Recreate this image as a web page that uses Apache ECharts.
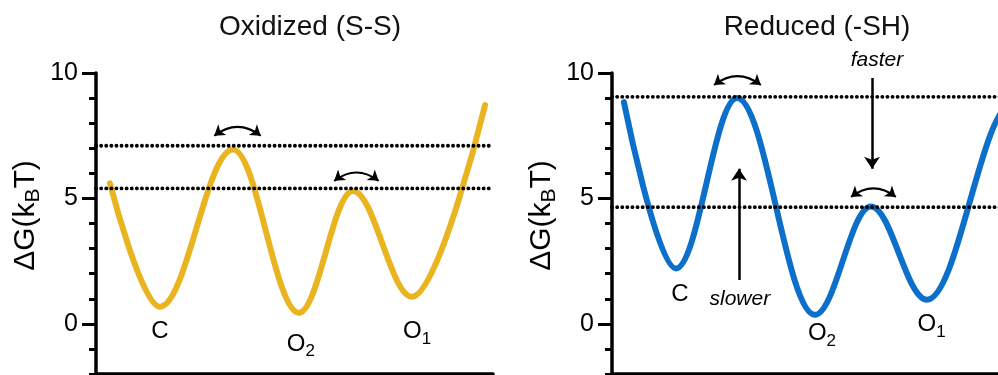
<!DOCTYPE html>
<html><head><meta charset="utf-8">
<script src="https://cdn.jsdelivr.net/npm/echarts@6/dist/echarts.min.js"></script>
<style>html,body{margin:0;padding:0;background:#fff}#c{width:998px;height:375px}</style>
</head><body><div id="c"></div>
<script>
// ---- data ----
const reactionCoordLeft = [3.5, 16.1, 34.5, 51.1, 64.7, 79.6, 98];
const energyLeft = [5.6, 0.68, 6.95, 0.44, 5.3, 1.08, 8.72];
const reactionCoordRight = [3.0, 16.1, 31.5, 51.1, 65.2, 79.3, 101, 115];
const energyRight = [8.84, 2.21, 9.0, 0.36, 4.68, 0.96, 8.8, 4.0];
const barriersLeft = [7.1, 5.4];
const barriersRight = [9.05, 4.65];
const yMajorTicks = [0, 5, 10];
const stateNames = ['C', 'O2', 'O1'];
const stateLabelXLeft = [16.1, 51.6, 80.9];
const stateLabelYLeft = [-0.32, -0.8, -0.32];
const stateLabelXRight = [17.1, 52.9, 80.5];
const stateLabelYRight = [1.16, -0.38, -0.04];
const hopStartLeft = [29.8, 60.0];
const hopEndLeft = [41.5, 71.2];
const hopLevelLeft = [7.5, 5.7];
const hopStartRight = [25.7, 60.2];
const hopEndRight = [37.5, 71.5];
const hopLevelRight = [9.52, 5.06];
const rateArrowX = [32.0, 65.5];
const rateArrowFrom = [1.75, 9.8];
const rateArrowTo = [6.18, 6.18];
const rateWords = ['slower', 'faster'];
const rateWordX = [32.2, 66.75];
const rateWordY = [1.0, 10.52];
const panelTitles = ['Oxidized (S-S)', 'Reduced (-SH)'];

const FONT = '"Liberation Sans", Arial, Helvetica, sans-serif';
const GOLD = '#EAB420';
const BLUE = '#0C6FCA';
const grids = [
  {left: 96, top: 73, width: 397, height: 301, outerBoundsMode: 'none', containLabel: false},
  {left: 612, top: 73, width: 397, height: 301, outerBoundsMode: 'none', containLabel: false}
];

function zip(a, b) { return a.map((v, i) => [v, b[i]]); }
function stateRich(t) { return t.length > 1 ? '{m|' + t[0] + '}{s|' + t.slice(1) + '}' : '{m|' + t + '}'; }

const xAxes = [0, 1].map(i => ({
  gridIndex: i, type: 'value', min: 0, max: 100, position: 'bottom',
  axisLine: {show: true, onZero: false, lineStyle: {color: '#000', width: 3.5}},
  axisTick: {show: false}, axisLabel: {show: false}, splitLine: {show: false}
}));
const yAxes = [];
[0, 1].forEach(i => {
  yAxes.push({
    gridIndex: i, type: 'value', min: -2, max: 10, interval: 1, position: 'left', offset: 0,
    axisLine: {show: true, onZero: false, lineStyle: {color: '#000', width: 3.5}},
    axisTick: {show: true, length: 7, lineStyle: {color: '#000', width: 3}},
    axisLabel: {show: false}, splitLine: {show: false}
  });
  yAxes.push({
    gridIndex: i, type: 'value', min: -2, max: 10, position: 'left', offset: 0,
    axisLine: {show: false, onZero: false},
    axisTick: {show: true, length: 14, customValues: yMajorTicks, lineStyle: {color: '#000', width: 3}},
    axisLabel: {show: true, customValues: yMajorTicks, fontSize: 25, color: '#000', margin: 18, fontFamily: FONT},
    splitLine: {show: false},
    name: '{a|ΔG(k}{b|B}{a|T)}', nameLocation: 'middle', nameGap: 52,
    nameTextStyle: {
      color: '#000', padding: [0, 0, 0, 16],
      rich: {
        a: {fontSize: 30, lineHeight: 36, fontFamily: FONT, color: '#000'},
        b: {fontSize: 21, lineHeight: 25, verticalAlign: 'bottom', fontFamily: FONT, color: '#000'}
      }
    }
  });
});

const series = [];
series.push({type: 'line', xAxisIndex: 0, yAxisIndex: 0, data: zip(reactionCoordLeft, energyLeft),
  smooth: 0.36, smoothMonotone: 'x', symbol: 'none', lineStyle: {color: GOLD, width: 6, cap: 'round', join: 'round'}, z: 3});
series.push({type: 'line', xAxisIndex: 1, yAxisIndex: 2, data: zip(reactionCoordRight, energyRight),
  smooth: 0.36, smoothMonotone: 'x', symbol: 'none', lineStyle: {color: BLUE, width: 6, cap: 'round', join: 'round'}, z: 3});

const dotStyle = {color: '#000', width: 3.8, type: [0.1, 5.0], cap: 'round'};
barriersLeft.forEach(b => series.push({type: 'line', xAxisIndex: 0, yAxisIndex: 0, data: [[0, b], [100, b]], symbol: 'none', lineStyle: dotStyle, z: 4}));
barriersRight.forEach(b => series.push({type: 'line', xAxisIndex: 1, yAxisIndex: 2, data: [[0, b], [100, b]], symbol: 'none', lineStyle: dotStyle, z: 4}));

function hopData(s, e, l) { return s.map((v, i) => ({coords: [[v, l[i]], [e[i], l[i]]]})); }
series.push({type: 'lines', coordinateSystem: 'cartesian2d', xAxisIndex: 0, yAxisIndex: 0,
  data: hopData(hopStartLeft, hopEndLeft, hopLevelLeft), symbol: ['arrow', 'arrow'], symbolSize: 10,
  lineStyle: {color: '#000', width: 2, curveness: 0.38, opacity: 1}, z: 5});
series.push({type: 'lines', coordinateSystem: 'cartesian2d', xAxisIndex: 1, yAxisIndex: 2,
  data: hopData(hopStartRight, hopEndRight, hopLevelRight), symbol: ['arrow', 'arrow'], symbolSize: 10,
  lineStyle: {color: '#000', width: 2, curveness: 0.38, opacity: 1}, z: 5});
series.push({type: 'lines', coordinateSystem: 'cartesian2d', xAxisIndex: 1, yAxisIndex: 2,
  data: rateArrowX.map((x, i) => ({coords: [[x, rateArrowFrom[i]], [x, rateArrowTo[i]]]})),
  symbol: ['none', 'arrow'], symbolSize: 12,
  lineStyle: {color: '#000', width: 2.5, curveness: 0, opacity: 1}, z: 5});

const labelRich = {
  m: {fontSize: 24, lineHeight: 32, fontFamily: FONT, color: '#000'},
  s: {fontSize: 17, lineHeight: 18, verticalAlign: 'bottom', fontFamily: FONT, color: '#000'},
  it: {fontSize: 21, fontStyle: 'italic', fontFamily: FONT, color: '#000'}
};
function labelSeries(xi, yi, xs, ys, texts, fmt) {
  return {type: 'scatter', xAxisIndex: xi, yAxisIndex: yi, clip: false, symbolSize: 0,
    data: xs.map((x, i) => [x, ys[i], texts[i]]),
    label: {show: true, position: 'inside', color: '#000', textBorderWidth: 0, opacity: 1,
      formatter: p => fmt(p.data[2]), rich: labelRich},
    itemStyle: {opacity: 1},
    emphasis: {disabled: true},
    z: 6, silent: true};
}
series.push(labelSeries(0, 0, stateLabelXLeft, stateLabelYLeft, stateNames, stateRich));
series.push(labelSeries(1, 2, stateLabelXRight, stateLabelYRight, stateNames, stateRich));
series.push(labelSeries(1, 2, rateWordX, rateWordY, rateWords, t => '{it|' + t + '}'));

const option = {
  animation: false,
  backgroundColor: '#fff',
  title: [
    {text: panelTitles[0], left: 310, top: 12, textAlign: 'center', padding: 0,
     textStyle: {fontSize: 28, fontWeight: 'normal', color: '#111', fontFamily: FONT, lineHeight: 30}},
    {text: panelTitles[1], left: 817, top: 12, textAlign: 'center', padding: 0,
     textStyle: {fontSize: 28, fontWeight: 'normal', color: '#111', fontFamily: FONT, lineHeight: 30}}
  ],
  grid: grids,
  xAxis: xAxes,
  yAxis: yAxes,
  series: series
};
const chart = echarts.init(document.getElementById('c'), null, {renderer: 'canvas'});
chart.setOption(option);
</script></body></html>
